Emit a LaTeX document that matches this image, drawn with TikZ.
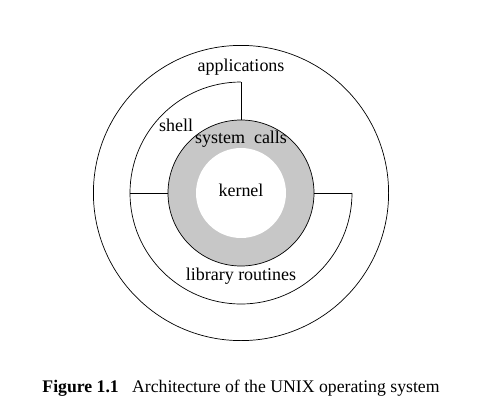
\documentclass[tikz,border=0pt]{standalone}
\usepackage{fontspec}
\setmainfont{Liberation Serif}
\usepackage{tikz}

\begin{document}
\begin{tikzpicture}[line width=0.5pt,
  layer/.style={anchor=base, inner sep=0pt, font=\fontsize{12.8}{15}\selectfont}]
% Bounding box with margins
\useasboundingbox (-6.025,-5.65) rectangle (6.575,4.825);

% Outer circle (applications)
\draw (0,0) circle (3.69);

% Shell ring, open in the upper right quarter
\draw (0,2.775) arc[start angle=90, end angle=360, radius=2.775];

% System calls ring and kernel
\filldraw[fill=black!22] (0,0) circle (1.825);
\fill[white] (0,0) circle (1.125);

% Separators between the rings
\draw (0,2.775) -- (0,1.825);
\draw (-2.775,0) -- (-1.825,0);
\draw (1.825,0) -- (2.775,0);

% Layer labels
\node[layer] (apps) at (0,3.03) {applications};
\node[layer] (shell) at (-1.62,1.53) {shell};
\node[layer] (syscalls) at (0,1.25) {system\ \ calls};
\node[layer] (kernel) at (0,-0.09) {kernel};
\node[layer] (libs) at (0,-2.175) {library routines};

% Caption
\node[layer, font=\fontsize{12.6}{15}\selectfont] (caption) at (0,-4.98)
  {\textbf{Figure 1.1}\hspace{0.75em}Architecture of the UNIX operating system};
\end{tikzpicture}
\end{document}
